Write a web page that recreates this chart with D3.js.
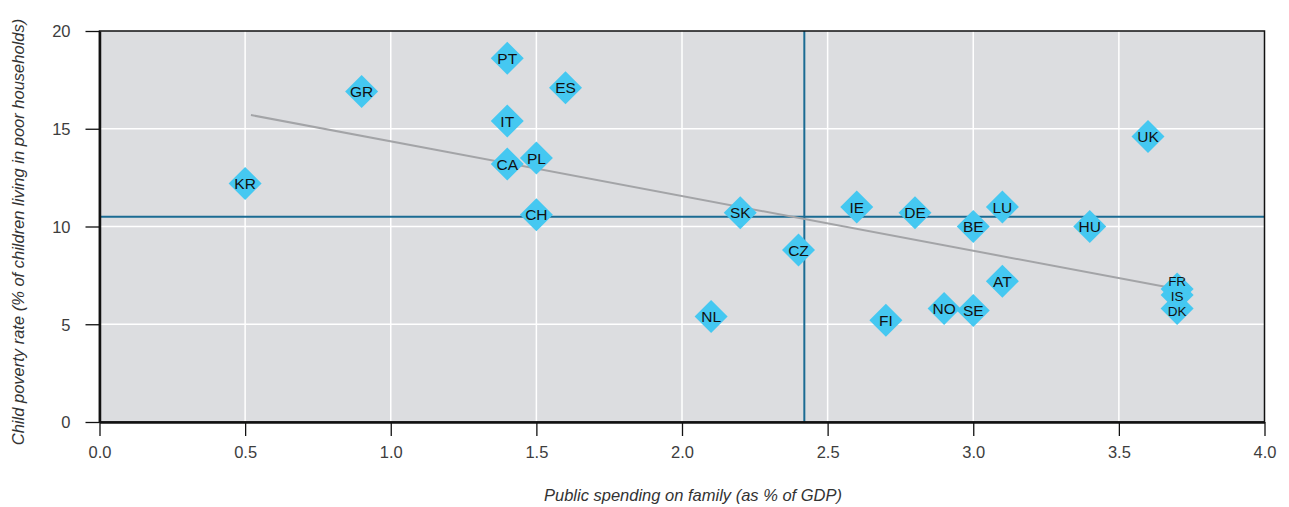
<!DOCTYPE html>
<html><head><meta charset="utf-8">
<script src="https://cdn.jsdelivr.net/npm/d3@7"></script>
<style>
body{margin:0;background:#fff;}
svg{display:block;}
</style></head>
<body>
<svg id="chart" width="1289" height="507"></svg>
<script>
const countries = ["KR","GR","PT","ES","IT","CA","PL","CH","SK","CZ","NL","IE","DE","BE","LU","AT","NO","SE","FI","HU","UK","FR","IS","DK"];
const spending  = [0.5, 0.9, 1.4, 1.6, 1.4, 1.4, 1.5, 1.5, 2.2, 2.4, 2.1, 2.6, 2.8, 3.0, 3.1, 3.1, 2.9, 3.0, 2.7, 3.4, 3.6, 3.7, 3.7, 3.7];
const poverty   = [12.2, 16.9, 18.6, 17.1, 15.4, 13.2, 13.5, 10.6, 10.7, 8.8, 5.4, 11.0, 10.7, 10.0, 11.0, 7.2, 5.8, 5.7, 5.2, 10.0, 14.6, 6.8, 6.5, 5.8];
const meanSpending = 2.42;
const meanPoverty = 10.5;
const trendX = [0.52, 3.7];
const trendY = [15.7, 6.8];
const xTicks = [0.0, 0.5, 1.0, 1.5, 2.0, 2.5, 3.0, 3.5, 4.0];
const yTicks = [0, 5, 10, 15, 20];

const svg = d3.select("#chart");
const L = 99.5, R = 1264.5, T = 31, B = 422;
const x = d3.scaleLinear().domain([0,4]).range([L,R]);
const y = d3.scaleLinear().domain([0,20]).range([B,T]);

svg.append("rect").attr("x",L).attr("y",T).attr("width",R-L).attr("height",B-T).attr("fill","#dcdde0");

// grid
svg.append("g").selectAll("line").data(xTicks.slice(1,-1)).join("line")
  .attr("x1",d=>x(d)).attr("x2",d=>x(d)).attr("y1",T).attr("y2",B)
  .attr("stroke","#fff").attr("stroke-width",1.5);
svg.append("g").selectAll("line").data(yTicks.slice(1,-1)).join("line")
  .attr("y1",d=>y(d)).attr("y2",d=>y(d)).attr("x1",L).attr("x2",R)
  .attr("stroke","#fff").attr("stroke-width",1.5);

// mean lines
svg.append("line").attr("x1",x(meanSpending)).attr("x2",x(meanSpending)).attr("y1",T).attr("y2",B)
  .attr("stroke","#1b6b93").attr("stroke-width",2);
svg.append("line").attr("y1",y(meanPoverty)).attr("y2",y(meanPoverty)).attr("x1",L).attr("x2",R)
  .attr("stroke","#1b6b93").attr("stroke-width",2);

// trend
svg.append("path").datum(trendX.map((d,i)=>[d,trendY[i]]))
  .attr("d",d3.line().x(d=>x(d[0])).y(d=>y(d[1])))
  .attr("fill","none").attr("stroke","#a3a4a7").attr("stroke-width",2);

// frame
svg.append("rect").attr("x",L).attr("y",T).attr("width",R-L).attr("height",B-T)
  .attr("fill","none").attr("stroke","#111").attr("stroke-width",1.5);

// axes
const xAxis = svg.append("g").attr("transform",`translate(0,${B})`)
  .call(d3.axisBottom(x).tickValues(xTicks).tickFormat(d3.format(".1f")).tickSize(14).tickSizeOuter(0));
const yAxis = svg.append("g").attr("transform",`translate(${L},0)`)
  .call(d3.axisLeft(y).tickValues(yTicks).tickSize(14).tickSizeOuter(0));
[xAxis,yAxis].forEach(a=>{
  a.select(".domain").attr("stroke","#111").attr("stroke-width",2.5);
  a.selectAll(".tick line").attr("stroke","#111").attr("stroke-width",1.3);
  a.selectAll(".tick text").attr("font-family","Liberation Sans, Arial, sans-serif")
    .attr("font-size",16.5).attr("fill","#3d3d3d");
});
xAxis.selectAll(".tick text").attr("y",24).attr("dy","0.71em");
yAxis.selectAll(".tick text").attr("x",-29).attr("dy","0.35em");

// points
const pts = countries.map((c,i)=>({c, sx:spending[i], py:poverty[i]}));
const labelNudge = {FR:-8, IS:1, DK:3};
const clustered = new Set(["FR","IS","DK"]);
const s = 16.5;
const g = svg.append("g");
const pg = g.selectAll("g").data(pts).join("g")
  .attr("transform",d=>`translate(${x(d.sx)},${y(d.py)})`);
pg.append("path").attr("d",`M0,${-s}L${s},0L0,${s}L${-s},0Z`).attr("fill","#45c8f1");
const lg = svg.append("g");
lg.selectAll("text").data(pts).join("text")
  .attr("x",d=>x(d.sx)).attr("y",d=>y(d.py)+(labelNudge[d.c]||0))
  .attr("dy","0.36em").attr("text-anchor","middle")
  .attr("font-family","Liberation Sans Narrow, Arial Narrow, sans-serif")
  .attr("font-size",d=>clustered.has(d.c)?13.5:15.5).attr("fill","#111").text(d=>d.c);

// titles
svg.append("text").attr("x",693).attr("y",501).attr("text-anchor","middle")
  .attr("font-family","Liberation Sans, Arial, sans-serif").attr("font-style","italic")
  .attr("font-size",16.5).attr("fill","#333").text("Public spending on family (as % of GDP)");
svg.append("text").attr("transform","translate(24,232) rotate(-90)").attr("text-anchor","middle")
  .attr("font-family","Liberation Sans, Arial, sans-serif").attr("font-style","italic")
  .attr("font-size",16.5).attr("fill","#333").text("Child poverty rate (% of children living in poor households)");
</script>
</body></html>
